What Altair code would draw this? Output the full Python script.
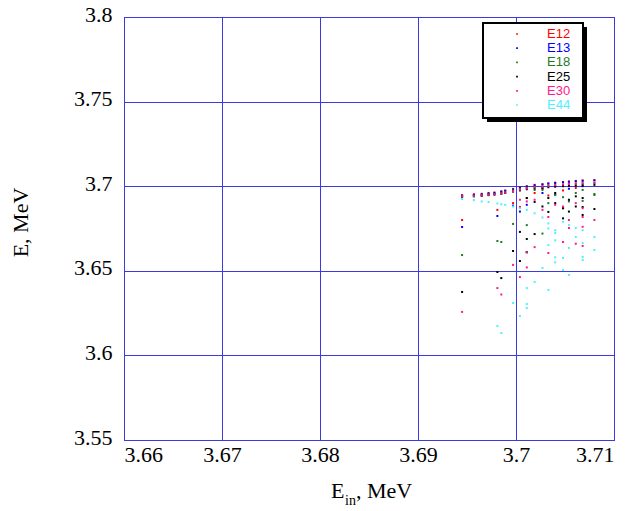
import altair as alt
import pandas as pd

SERIES = ["E12", "E13", "E18", "E25", "E30", "E44"]
COLORS = ["#ff0000", "#0000ff", "#1f7a1f", "#000000", "#ff1a8c", "#4df0ff"]

X_TICKS = [3.66, 3.67, 3.68, 3.69, 3.70, 3.71]
Y_TICKS = [3.55, 3.60, 3.65, 3.70, 3.75, 3.80]

E12_X = [3.6945, 3.6957, 3.6965, 3.6972, 3.6978, 3.6985, 3.6989, 3.6997, 3.7004, 3.7011,
         3.7019, 3.7027, 3.7033, 3.7040, 3.7048, 3.7054, 3.7061, 3.7068, 3.7080,
         3.6945, 3.6981, 3.6997, 3.7004, 3.7011, 3.7019, 3.7033, 3.7048, 3.7061, 3.7027]
E12_Y = [3.6947, 3.6952, 3.6955, 3.6960, 3.6963, 3.6970, 3.6975, 3.6984, 3.6994, 3.7000,
         3.7008, 3.7012, 3.7017, 3.7021, 3.7025, 3.7028, 3.7031, 3.7034, 3.7036,
         3.6800, 3.6860, 3.6900, 3.6877, 3.6930, 3.6960, 3.6945, 3.6975, 3.6990, 3.6985]

E13_X = [3.6945, 3.6957, 3.6965, 3.6972, 3.6978, 3.6985, 3.6989, 3.6997, 3.7004, 3.7011,
         3.7019, 3.7027, 3.7033, 3.7040, 3.7048, 3.7054, 3.7061, 3.7068, 3.7080,
         3.6945, 3.6981, 3.6997, 3.7004, 3.7011, 3.7027, 3.7040, 3.7054, 3.7068]
E13_Y = [3.6944, 3.6949, 3.6952, 3.6957, 3.6960, 3.6967, 3.6972, 3.6981, 3.6991, 3.6998,
         3.7005, 3.7010, 3.7015, 3.7019, 3.7023, 3.7026, 3.7029, 3.7032, 3.7034,
         3.6759, 3.6824, 3.6885, 3.6850, 3.6890, 3.6960, 3.6950, 3.6985, 3.7000]

E18_X = [3.6945, 3.6957, 3.6965, 3.6972, 3.6978, 3.6985, 3.6989, 3.6997, 3.7004, 3.7011,
         3.7019, 3.7027, 3.7033, 3.7040, 3.7048, 3.7054, 3.7061, 3.7068, 3.7080,
         3.6945, 3.6981, 3.6985, 3.6997, 3.7011, 3.7011, 3.7019, 3.7027, 3.7040, 3.7048,
         3.7027, 3.7048, 3.7061, 3.7068, 3.7068, 3.7080, 3.7080, 3.7033, 3.7054]
E18_Y = [3.6940, 3.6944, 3.6947, 3.6951, 3.6954, 3.6960, 3.6965, 3.6975, 3.6983, 3.6990,
         3.6995, 3.6998, 3.7002, 3.7006, 3.7009, 3.7012, 3.7015, 3.7017, 3.7019,
         3.6593, 3.6676, 3.6670, 3.6777, 3.6770, 3.6610, 3.6978, 3.6978, 3.6948, 3.6935,
         3.6720, 3.6870, 3.6960, 3.6978, 3.6913, 3.6954, 3.6948, 3.6900, 3.6910]

E25_X = [3.6945, 3.6957, 3.6965, 3.6972, 3.6978, 3.6985, 3.6989, 3.6997, 3.7004, 3.7011,
         3.7019, 3.7027, 3.7033, 3.7040, 3.7048, 3.7054, 3.7061, 3.7068, 3.7080,
         3.6945, 3.6981, 3.6985, 3.6997, 3.7004, 3.7004, 3.7011, 3.7011, 3.7019, 3.7011,
         3.7019, 3.7027, 3.7033, 3.7033, 3.7040, 3.7048, 3.7048, 3.7054, 3.7061, 3.7068,
         3.7068, 3.7068, 3.7080, 3.7054, 3.7061, 3.7040]
E25_Y = [3.6937, 3.6940, 3.6943, 3.6947, 3.6950, 3.6955, 3.6960, 3.6968, 3.6975, 3.6982,
         3.6987, 3.6990, 3.6994, 3.6997, 3.7000, 3.7002, 3.7004, 3.7006, 3.7008,
         3.6375, 3.6493, 3.6457, 3.6617, 3.6730, 3.6558, 3.6688, 3.6610, 3.6717, 3.6930,
         3.6907, 3.6880, 3.6848, 3.6930, 3.6900, 3.6810, 3.6870, 3.6920, 3.6880, 3.6930,
         3.6877, 3.6830, 3.6865, 3.6850, 3.6940, 3.6960]

E30_X = [3.6945, 3.6957, 3.6965, 3.6972, 3.6978, 3.6985, 3.6989, 3.6997, 3.7004, 3.7011,
         3.7019, 3.7027, 3.7033, 3.7040, 3.7048, 3.7054, 3.7061, 3.7068, 3.7080,
         3.6945, 3.6981, 3.6985, 3.6997, 3.7004, 3.7011, 3.7011, 3.7019, 3.7004, 3.7011,
         3.7019, 3.7027, 3.7033, 3.7033, 3.7040, 3.7048, 3.7048, 3.7054, 3.7054, 3.7061,
         3.7061, 3.7068, 3.7068, 3.7068, 3.7080, 3.7068]
E30_Y = [3.6939, 3.6942, 3.6945, 3.6949, 3.6952, 3.6957, 3.6962, 3.6970, 3.6980, 3.6987,
         3.6993, 3.6997, 3.7002, 3.7006, 3.7010, 3.7013, 3.7016, 3.7018, 3.7020,
         3.6257, 3.6398, 3.6360, 3.6535, 3.6463, 3.6520, 3.6610, 3.6640, 3.6920, 3.6910,
         3.6920, 3.6860, 3.6818, 3.6605, 3.6890, 3.6880, 3.6670, 3.6800, 3.6753, 3.6900,
         3.6660, 3.6870, 3.6818, 3.6647, 3.6800, 3.6760]

E44_X = [3.6945, 3.6957, 3.6965, 3.6972, 3.6981, 3.6985, 3.6989, 3.6997, 3.7004, 3.7011,
         3.7019, 3.7027, 3.7033, 3.7033, 3.7040, 3.7040, 3.7048, 3.7054, 3.7061, 3.7068,
         3.6981, 3.6985, 3.6997, 3.7004, 3.7011, 3.7011, 3.7011, 3.7019, 3.7027, 3.7033,
         3.7033, 3.7040, 3.7040, 3.7048, 3.7048, 3.7054, 3.7054, 3.7040, 3.7061, 3.7068,
         3.7068, 3.7068, 3.7080, 3.7080]
E44_Y = [3.6924, 3.6918, 3.6910, 3.6906, 3.6898, 3.6893, 3.6890, 3.6880, 3.6870, 3.6860,
         3.6840, 3.6815, 3.6780, 3.6750, 3.6740, 3.6723, 3.6790, 3.6770, 3.6753, 3.6740,
         3.6174, 3.6132, 3.6310, 3.6233, 3.6304, 3.6280, 3.6398, 3.6434, 3.6517, 3.6387,
         3.6652, 3.6580, 3.6550, 3.6505, 3.6576, 3.6475, 3.6635, 3.6680, 3.6700, 3.6664,
         3.6582, 3.6564, 3.6623, 3.6700]

ALL_X = [E12_X, E13_X, E18_X, E25_X, E30_X, E44_X]
ALL_Y = [E12_Y, E13_Y, E18_Y, E25_Y, E30_Y, E44_Y]

rows = []
for name, xs, ys in zip(SERIES, ALL_X, ALL_Y):
    for a, b in zip(xs, ys):
        rows.append({"series": name, "Ein": a, "E": b})
df = pd.DataFrame(rows)
leg_df = pd.DataFrame({"series": SERIES})

SERIF = "Liberation Serif"
GRID = "#3a3ae0"

color = alt.Color("series:N", scale=alt.Scale(domain=SERIES, range=COLORS), legend=None)

points = alt.Chart(df).mark_square(size=4, opacity=1).encode(
    x=alt.X("Ein:Q",
            scale=alt.Scale(domain=[3.66, 3.71], nice=False, zero=False),
            axis=alt.Axis(values=X_TICKS, format="~g", title=None, ticks=False, domain=False,
                          grid=True, gridColor=GRID, gridWidth=1, gridOpacity=1,
                          labelFont=SERIF, labelFontSize=22, labelColor="black",
                          labelPadding=4)),
    y=alt.Y("E:Q",
            scale=alt.Scale(domain=[3.55, 3.8], nice=False, zero=False),
            axis=alt.Axis(values=Y_TICKS, format="~g", title="E, MeV", ticks=False, domain=False,
                          grid=True, gridColor=GRID, gridWidth=1, gridOpacity=1,
                          labelFont=SERIF, labelFontSize=22, labelColor="black",
                          labelPadding=12, labelOffset=-3,
                          titleFont=SERIF, titleFontSize=22, titleFontWeight="normal",
                          titleColor="black", titleAngle=270, titleX=-104, titleY=205,
                          titleAlign="center", titleBaseline="middle")),
    color=color,
)

one = alt.Data(values=[{"k": 1}])

t_e = alt.Chart(one).mark_text(font=SERIF, fontSize=22, align="left", baseline="alphabetic",
                               color="black").encode(
    x=alt.value(207), y=alt.value(481), text=alt.value("E"))
t_in = alt.Chart(one).mark_text(font=SERIF, fontSize=14, align="left", baseline="alphabetic",
                                color="black").encode(
    x=alt.value(221), y=alt.value(488), text=alt.value("in"))
t_mev = alt.Chart(one).mark_text(font=SERIF, fontSize=22, align="left", baseline="alphabetic",
                                 color="black").encode(
    x=alt.value(232), y=alt.value(481), text=alt.value(", MeV"))

shadow = alt.Chart(one).mark_rect(color="black").encode(
    x=alt.value(363), x2=alt.value(463), y=alt.value(10), y2=alt.value(105))
box = alt.Chart(one).mark_rect(fill="white", stroke="black", strokeWidth=2).encode(
    x=alt.value(359), x2=alt.value(459), y=alt.value(6), y2=alt.value(101))

leg_y = alt.Y("series:N", scale=alt.Scale(type="point", domain=SERIES, range=[17, 88], padding=0),
              axis=None)
leg_pts = alt.Chart(leg_df).mark_square(size=3, opacity=1).encode(
    x=alt.value(393), y=leg_y, color=color)
leg_txt = alt.Chart(leg_df).mark_text(align="left", baseline="middle", font="Liberation Sans",
                                      fontSize=13).encode(
    x=alt.value(423), y=leg_y, text="series:N", color=color)

chart = alt.layer(points, t_e, t_in, t_mev, shadow, box, leg_pts, leg_txt).resolve_scale(
    y="independent"
).properties(
    width=490, height=423,
    padding={"left": 124, "top": 17, "right": 22, "bottom": 71},
    autosize=alt.AutoSizeParams(type="none"),
    background="white",
).configure_view(stroke="#0000ee", strokeWidth=1)

chart.save("out.html", embed_options={"renderer": "svg", "actions": False})
